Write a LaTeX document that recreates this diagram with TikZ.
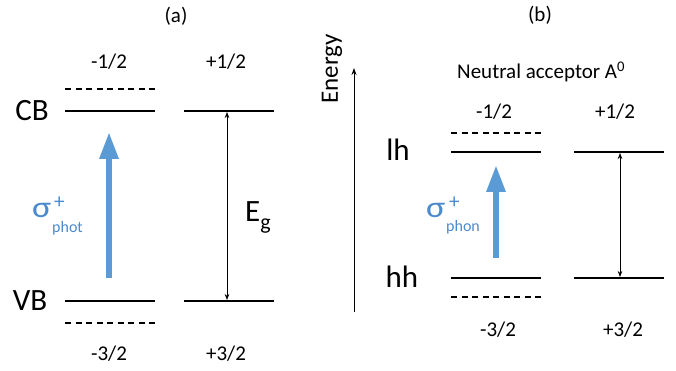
\documentclass[tikz,border=0pt]{standalone}
\usepackage{fontspec}
\setmainfont{Carlito}
\usetikzlibrary{arrows.meta}
\definecolor{blu}{HTML}{5B9BD5}
\definecolor{blutext}{HTML}{4A8ACD}
\begin{document}
\begin{tikzpicture}[x=1pt,y=-1pt,
  level/.style={line width=1.3pt},
  dlevel/.style={line width=1.3pt, dash pattern=on 6pt off 4.5pt},
  small/.style={font=\fontsize{21}{23}\selectfont, inner sep=0pt},
  big/.style={font=\fontsize{31}{33}\selectfont, inner sep=0pt},
  sig/.style={font=\fontsize{30}{31}\selectfont, inner sep=0pt, text=blutext, anchor=base west},
  sup/.style={font=\fontsize{21}{22}\selectfont, inner sep=0pt, text=blutext, anchor=base west},
  sub/.style={font=\fontsize{16}{18}\selectfont, inner sep=0pt, text=blutext, anchor=base west},
  photon/.style={blu, line width=6pt, -{Triangle[width=18pt,length=27pt]}},
  gap/.style={line width=0.6pt, {Stealth[length=6pt,width=4.5pt]}-{Stealth[length=6pt,width=4.5pt]}},
  axis/.style={line width=1pt, -{Stealth[length=7pt,width=5pt]}}]
\useasboundingbox (0,0) rectangle (676,371);
% ---------- (a) ----------
\node[small] (ta) at (176,16) {(a)};
\node[small] (am1) at (109,62) {-1/2};
\node[small] (ap1) at (226,62) {+1/2};
\node[small] (am3) at (109,354) {-3/2};
\node[small] (ap3) at (226,354) {+3/2};
\node[big] (cb) at (32,111) {CB};
\node[big] (vb) at (30,301) {VB};
\coordinate (adl) at (65,89);   \coordinate (adr) at (155,89);
\coordinate (acl) at (65,111);  \coordinate (acr) at (155,111);
\coordinate (bcl) at (184,111); \coordinate (bcr) at (274,111);
\coordinate (avl) at (65,301);  \coordinate (avr) at (155,301);
\coordinate (bvl) at (184,301); \coordinate (bvr) at (274,301);
\coordinate (add) at (65,323);  \coordinate (adde) at (155,323);
\draw[dlevel] (adl) -- (adr);
\draw[level] (acl) -- (acr);
\draw[level] (bcl) -- (bcr);
\draw[level] (avl) -- (avr);
\draw[level] (bvl) -- (bvr);
\draw[dlevel] (add) -- (adde);
\coordinate (aph0) at (109,278); \coordinate (aph1) at (109,132);
\draw[photon] (aph0) -- (aph1);
\coordinate (ag0) at (227,112); \coordinate (ag1) at (227,300);
\draw[gap] (ag0) -- (ag1);
\node[big, anchor=base west] (eg) at (245,222) {E\raisebox{-8pt}{\fontsize{22}{24}\selectfont g}};
\node[sig] (sa) at (32,218) {\scalebox{1.2}[1]{σ}};
\node[sup] (sap) at (54,208) {+};
\node[sub] (sas) at (52,232) {phot};
% ---------- axis ----------
\node[font=\fontsize{25}{27}\selectfont, inner sep=0pt, rotate=90] (en) at (332,69) {Energy};
\coordinate (ax0) at (354,312); \coordinate (ax1) at (354,68);
\draw[axis] (ax0) -- (ax1);
% ---------- (b) ----------
\node[small] (tb) at (540,15) {(b)};
\node[small, anchor=base west] (na) at (457,79) {Neutral acceptor A\textsuperscript{0}};
\node[small] (bm1) at (494,112) {-1/2};
\node[small] (bp1) at (615,112) {+1/2};
\node[small] (bm3) at (498,330) {-3/2};
\node[small] (bp3) at (623,330) {+3/2};
\node[big] (lh) at (398,150) {lh};
\node[big] (hh) at (402,277) {hh};
\coordinate (cdl) at (451,133); \coordinate (cdr) at (541,133);
\coordinate (cll) at (451,152); \coordinate (clr) at (541,152);
\coordinate (dll) at (574,152); \coordinate (dlr) at (664,152);
\coordinate (chl) at (451,278); \coordinate (chr) at (541,278);
\coordinate (dhl) at (574,278); \coordinate (dhr) at (664,278);
\coordinate (cel) at (451,297); \coordinate (cer) at (541,297);
\draw[dlevel] (cdl) -- (cdr);
\draw[level] (cll) -- (clr);
\draw[level] (dll) -- (dlr);
\draw[level] (chl) -- (chr);
\draw[level] (dhl) -- (dhr);
\draw[dlevel] (cel) -- (cer);
\coordinate (bph0) at (496,258); \coordinate (bph1) at (496,165);
\draw[photon] (bph0) -- (bph1);
\coordinate (bg0) at (620,153); \coordinate (bg1) at (620,277);
\draw[gap] (bg0) -- (bg1);
\node[sig] (sb) at (426,218) {\scalebox{1.2}[1]{σ}};
\node[sup] (sbp) at (449,208) {+};
\node[sub] (sbs) at (446,231) {phon};
\end{tikzpicture}
\end{document}
